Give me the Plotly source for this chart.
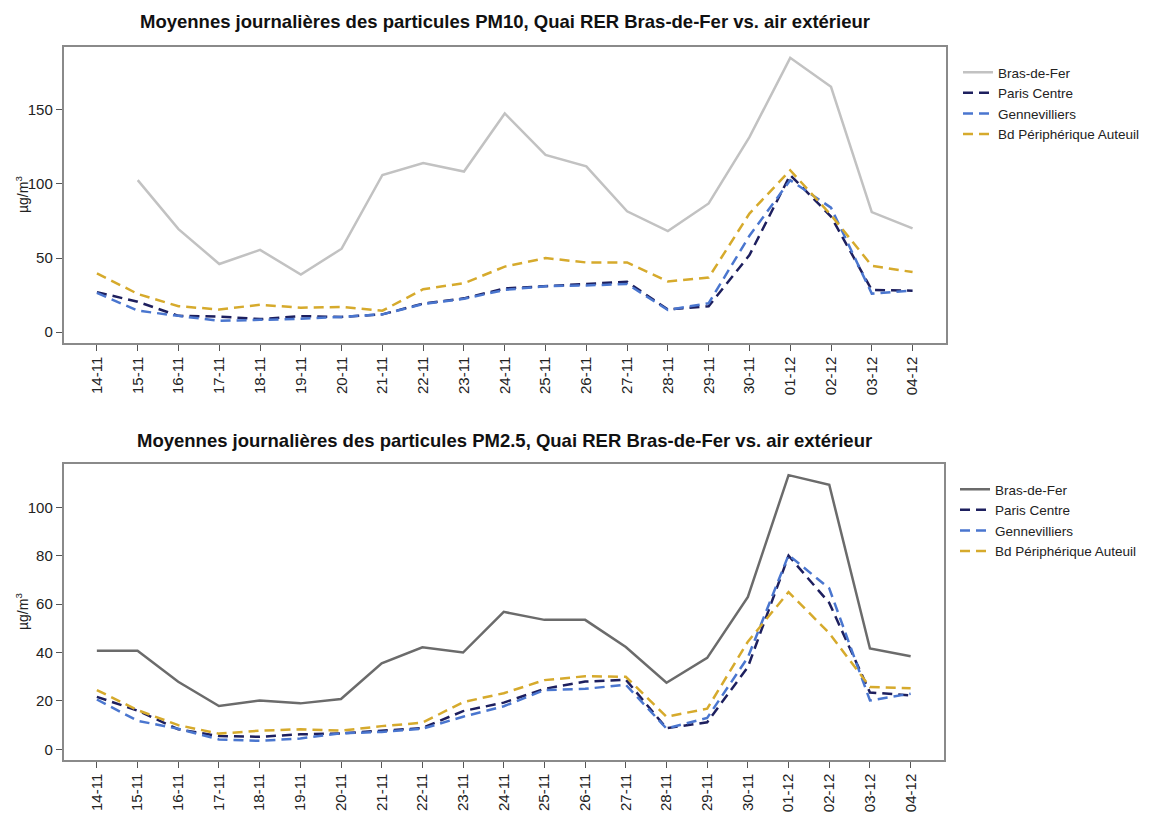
import plotly.graph_objects as go

# Daily dates (day-month)
dates = ["14-11", "15-11", "16-11", "17-11", "18-11", "19-11", "20-11", "21-11",
         "22-11", "23-11", "24-11", "25-11", "26-11", "27-11", "28-11", "29-11",
         "30-11", "01-12", "02-12", "03-12", "04-12"]

# PM10 daily means (µg/m3)
pm10_bras = [None, 102.5, 69.5, 46, 55.5, 38.8, 56.3, 106, 114, 108.3, 147.5,
             119.5, 111.8, 81.5, 68.2, 86.8, 131.5, 185, 165.5, 81, 70]
pm10_paris = [27, 20.5, 11, 10.5, 8.8, 10.8, 10.3, 12, 19.3, 22.8, 29.5,
              31, 32.5, 34, 15.3, 17.5, 52, 106, 78, 28.5, 28]
pm10_genn = [26.5, 14.5, 11, 7.6, 8.3, 9, 10.3, 12, 19, 22.5, 28.5,
             31, 31.5, 32.5, 15, 19.5, 65, 102.5, 84, 26, 28]
pm10_auteuil = [39.7, 25.8, 17.5, 15.3, 18.5, 16.5, 17, 14.5, 29, 33, 44.2,
                50, 47, 47, 34.2, 36.8, 80, 109.2, 79, 44.8, 40.5]

# PM2.5 daily means (µg/m3)
pm25_bras = [40.7, 40.7, 27.9, 17.9, 20.2, 19, 20.8, 35.5, 42.2, 40, 56.8,
             53.5, 53.5, 42.3, 27.5, 37.8, 63, 113.3, 109.3, 41.7, 38.5]
pm25_paris = [21.7, 16, 8.3, 5.5, 5.2, 6.2, 6.6, 7.8, 8.8, 15.8, 19.3,
              25, 28, 28.8, 8.7, 11.2, 34, 80, 60.5, 23.5, 22.3]
pm25_genn = [20.6, 11.8, 8.5, 4.1, 3.5, 4.5, 6.6, 7.2, 8.5, 13.5, 17.8,
             24.5, 25, 26.7, 8.6, 13, 38, 80.3, 66.5, 20.2, 23]
pm25_auteuil = [24.5, 16.2, 10, 6.5, 7.7, 8.3, 7.7, 9.6, 11, 19.5, 23.2,
                28.6, 30.2, 30, 13.5, 16.8, 44.5, 65, 48, 25.8, 25.2]

series_names = ["Bras-de-Fer", "Paris Centre", "Gennevilliers", "Bd Périphérique Auteuil"]

NAVY = "#1d1f5e"
BLUE = "#4a76cf"
GOLD = "#d6aa2c"
DASH = "10px,6px"
FONT = "Liberation Sans, Arial, sans-serif"

fig = go.Figure()

def add_panel(values, bras_color, xa, ya, legend):
    styles = [
        dict(color=bras_color, width=2.5, dash="solid"),
        dict(color=NAVY, width=2.5, dash=DASH),
        dict(color=BLUE, width=2.5, dash=DASH),
        dict(color=GOLD, width=2.5, dash=DASH),
    ]
    for name, vals, st in zip(series_names, values, styles):
        fig.add_trace(go.Scatter(
            x=dates, y=vals, name=name, mode="lines", line=st,
            xaxis=xa, yaxis=ya, legend=legend, connectgaps=False,
        ))

add_panel([pm10_bras, pm10_paris, pm10_genn, pm10_auteuil], "#c2c2c2", "x", "y", "legend")
add_panel([pm25_bras, pm25_paris, pm25_genn, pm25_auteuil], "#6b6b6b", "x2", "y2", "legend2")

W, H = 1151, 824
x_dom = [63.5 / W, 946 / W]
top_dom = [1 - 343 / H, 1 - 47 / H]
bot_dom = [1 - 760 / H, 1 - 464 / H]

axis_common = dict(
    showline=True, linecolor="#8a8a8a", linewidth=1.5, mirror=True,
    ticks="outside", ticklen=6, tickcolor="#555555", tickwidth=1,
    showgrid=False, zeroline=False,
    tickfont=dict(family=FONT, size=15, color="#222222"),
)

def unit_label(dom):
    # rotated y-axis unit label, centred on the panel
    return dict(text="µg/m<sup>3</sup>", x=22 / W, y=(dom[0] + dom[1]) / 2,
                xref="paper", yref="paper", textangle=-90, showarrow=False,
                xanchor="center", yanchor="middle",
                font=dict(family=FONT, size=14, color="#222222"))

def panel_title(text, ypix):
    return dict(text=f"<b>{text}</b>", x=(x_dom[0] + x_dom[1]) / 2, y=1 - ypix / H,
                xref="paper", yref="paper", showarrow=False,
                xanchor="center", yanchor="middle",
                font=dict(family=FONT, size=18.5, color="#111111"))

fig.update_layout(
    width=W, height=H,
    margin=dict(l=0, r=0, t=0, b=0),
    paper_bgcolor="white", plot_bgcolor="white",
    font=dict(family=FONT, color="#222222"),
    xaxis=dict(axis_common, domain=x_dom, anchor="y", type="category",
               range=[-0.82, 20.82], tickangle=-90),
    yaxis=dict(axis_common, domain=top_dom, anchor="x",
               range=[-7.3, 192.3], tickvals=[0, 50, 100, 150]),
    xaxis2=dict(axis_common, domain=[x_dom[0], 944 / W], anchor="y2", type="category",
                range=[-0.82, 20.82], tickangle=-90),
    yaxis2=dict(axis_common, domain=bot_dom, anchor="x2",
                range=[-4.4, 117.9], tickvals=[0, 20, 40, 60, 80, 100]),
    legend=dict(x=958 / W, y=1 - 57 / H, xanchor="left", yanchor="top",
                font=dict(family=FONT, size=13.5, color="#222222"),
                bgcolor="rgba(0,0,0,0)", tracegroupgap=0),
    legend2=dict(x=955 / W, y=1 - 474 / H, xanchor="left", yanchor="top",
                 font=dict(family=FONT, size=13.5, color="#222222"),
                 bgcolor="rgba(0,0,0,0)", tracegroupgap=0),
    annotations=[
        panel_title("Moyennes journalières des particules PM10, Quai RER Bras-de-Fer vs. air extérieur", 22),
        panel_title("Moyennes journalières des particules PM2.5, Quai RER Bras-de-Fer vs. air extérieur", 440),
        unit_label(top_dom),
        unit_label(bot_dom),
    ],
)

fig.write_html("out.html")
